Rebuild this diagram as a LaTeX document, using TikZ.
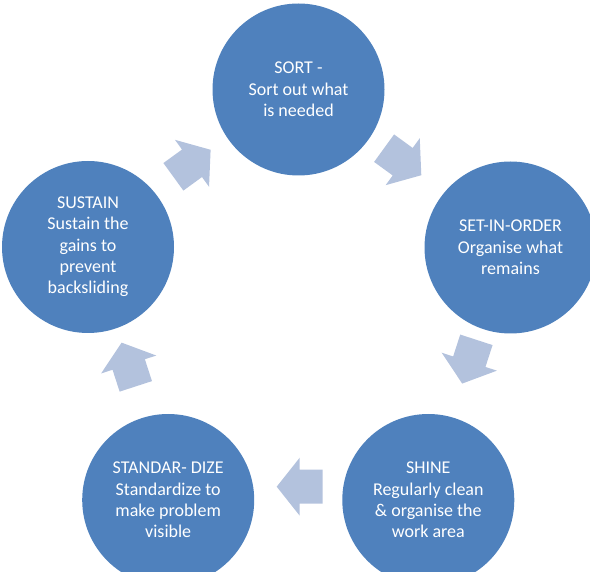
\documentclass[tikz,border=0pt]{standalone}
\usepackage{fontspec}
\setmainfont{Carlito}
\definecolor{circblue}{HTML}{4F81BD}
\definecolor{arrblue}{HTML}{B3C2DD}
\tikzset{
  stage/.style={circle, fill=circblue, minimum size=172pt, inner sep=0pt,
    text=white, align=center, font=\fontsize{18}{21.3}\selectfont},
  cyc arrow/.pic={\fill[arrblue] (-23,-17) -- (0,-17) -- (0,-29) -- (23,0) -- (0,29) -- (0,17) -- (-23,17) -- cycle;}
}
\begin{document}
\begin{tikzpicture}[x=1pt,y=-1pt]
\useasboundingbox (0,0) rectangle (590,572);
\node[stage] (sort) at (298.5,89.5) {SORT -\\Sort out what\\is needed};
\node[stage] (sio) at (510.5,247.5) {SET-IN-ORDER\\Organise what\\remains};
\node[stage] (shine) at (428.3,500) {SHINE\\Regularly clean\\\& organise the\\work area};
\node[stage] (std) at (168.2,500) {STANDAR- DIZE\\Standardize to\\make problem\\visible};
\node[stage] (sus) at (88,247) {SUSTAIN\\Sustain the\\gains to\\prevent\\backsliding};
\pic[rotate=-36] (a1) at (402.7,161.7) {cyc arrow};
\pic[rotate=-108] (a2) at (469.3,361.7) {cyc arrow};
\pic[rotate=180] (a3) at (299.7,486.7) {cyc arrow};
\pic[rotate=108] (a4) at (128.7,364.5) {cyc arrow};
\pic[rotate=36] (a5) at (192,163.3) {cyc arrow};
\end{tikzpicture}
\end{document}
